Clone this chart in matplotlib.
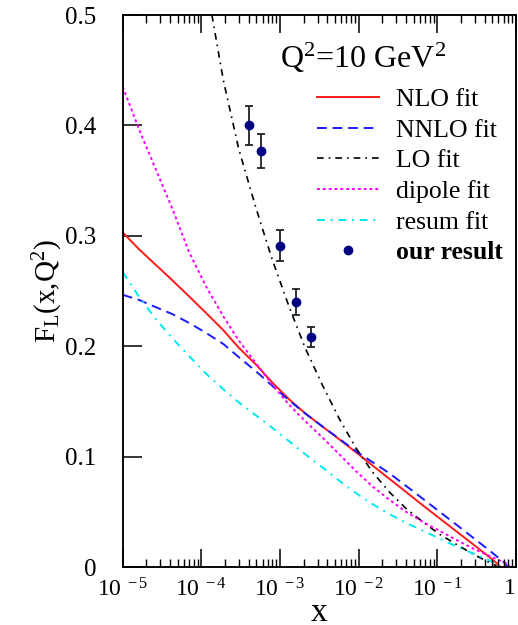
import numpy as np
import matplotlib
matplotlib.use('Agg')
import matplotlib.pyplot as plt
from matplotlib.lines import Line2D
from matplotlib.ticker import LogLocator, NullFormatter

plt.rcParams['font.family'] = ['Liberation Serif', 'DejaVu Serif']
plt.rcParams['mathtext.fontset'] = 'custom'
plt.rcParams['mathtext.rm'] = 'Liberation Serif'
plt.rcParams['mathtext.it'] = 'Liberation Serif:italic'

# ---- curves (x, F_L) ----
x_grid = [1e-5, 1.6e-5, 2.6e-5, 4.3e-5, 7.0e-5, 1.15e-4, 1.9e-4, 3.0e-4, 5.0e-4,
          8.0e-4, 1.3e-3, 2.1e-3, 3.5e-3, 5.7e-3, 9.2e-3, 1.5e-2, 2.45e-2, 4.0e-2,
          6.5e-2, 0.105, 0.17, 0.28, 0.46, 0.74]

nlo_x = x_grid[:23] + [0.6, 0.63]
nlo_y = [0.303, 0.288, 0.274, 0.2595, 0.245, 0.230, 0.2145, 0.1985, 0.183, 0.167,
         0.152, 0.139, 0.127, 0.1155, 0.104, 0.092, 0.080, 0.068, 0.056, 0.0445,
         0.033, 0.021, 0.009, 0.002, 0.0]

nnlo_x = x_grid + [0.78]
nnlo_y = [0.2465, 0.242, 0.2355, 0.229, 0.221, 0.212, 0.202, 0.190, 0.177, 0.164,
          0.151, 0.139, 0.127, 0.116, 0.105, 0.095, 0.085, 0.0735, 0.062, 0.0505,
          0.039, 0.027, 0.015, 0.003, 0.0]

lo_x = [1.36e-4] + x_grid[6:23] + [0.57]
lo_y = [0.5, 0.441, 0.378, 0.324, 0.278, 0.236, 0.198, 0.164, 0.134, 0.108,
        0.086, 0.068, 0.053, 0.041, 0.030, 0.021, 0.012, 0.004, 0.001]

dipole_x = x_grid + [0.85]
dipole_y = [0.435, 0.397, 0.361, 0.324, 0.285, 0.254, 0.227, 0.205, 0.184, 0.165,
            0.147, 0.132, 0.117, 0.102, 0.087, 0.073, 0.061, 0.050, 0.041, 0.033,
            0.025, 0.017, 0.010, 0.0035, 0.0]

resum_x = x_grid[:23] + [0.64]
resum_y = [0.267, 0.245, 0.225, 0.207, 0.191, 0.175, 0.161, 0.149, 0.137, 0.126,
           0.114, 0.102, 0.090, 0.078, 0.067, 0.057, 0.048, 0.040, 0.033, 0.026,
           0.019, 0.0125, 0.006, 0.0]

# our result points
pts_x = [4.0e-4, 5.8e-4, 1.0e-3, 1.6e-3, 2.5e-3]
pts_y = [0.400, 0.377, 0.291, 0.240, 0.208]
pts_err = [0.018, 0.0155, 0.014, 0.012, 0.009]

x_ticks = [1e-5, 1e-4, 1e-3, 1e-2, 1e-1, 1]
x_ticklabels = [r'10$^{\ -5}$', r'10$^{\ -4}$', r'10$^{\ -3}$', r'10$^{\ -2}$',
                r'10$^{\ -1}$', '1']
y_ticks = [0, 0.1, 0.2, 0.3, 0.4, 0.5]
y_ticklabels = ['0', '0.1', '0.2', '0.3', '0.4', '0.5']

rect = [0.237, 0.0928, 0.759, 0.8832]
fig = plt.figure(figsize=(5.18, 6.25), dpi=100)

# main axes: curves, points, y axis, legend
ax = fig.add_axes(rect)
ax.set_xscale('log')
ax.set_xlim(1e-5, 1)
ax.set_ylim(0, 0.5)

ax.plot(nlo_x, nlo_y, color='#ff1a1a', lw=1.4, ls='-', label='NLO fit')
ax.plot(nnlo_x, nnlo_y, color='#1a1aff', lw=1.4, ls=(0, (5, 3)), label='NNLO fit')
ax.plot(lo_x, lo_y, color='black', lw=1.2, ls=(0, (4, 3, 1, 3)), label='LO fit')
ax.plot(dipole_x, dipole_y, color='#ff00ff', lw=1.4, ls=(0, (1.5, 1.5)), label='dipole fit')
ax.plot(resum_x, resum_y, color='#00e8f0', lw=1.4, ls=(0, (4, 3, 1, 3)), label='resum fit')
ax.errorbar(pts_x, pts_y, yerr=pts_err, fmt='o', color='#000080', ms=6,
            ecolor='#222222', elinewidth=1.3, capsize=3, capthick=1.3)

ax.tick_params(axis='x', which='both', bottom=False, top=False, labelbottom=False)
ax.set_yticks(y_ticks)
ax.set_yticklabels(y_ticklabels)
ax.tick_params(axis='y', which='major', direction='in', length=14, width=1.1,
               right=False, labelsize=18, pad=19)
ax.tick_params(axis='y', which='minor', left=False, right=False)
for s in ax.spines.values():
    s.set_linewidth(1.1)
ax.set_ylabel(r'F$_\mathrm{L}$(x,Q$^2$)', fontsize=21, labelpad=0)

ax.text(0.40, 0.904, r'Q$^2$=10 GeV$^2$', transform=ax.transAxes, fontsize=23)

handles, labels = ax.get_legend_handles_labels()
handles = handles[:5] + [Line2D([], [], ls='none', marker='o', color='#000080', ms=6)]
labels = labels[:5] + ['our result']
leg = ax.legend(handles, labels, loc='upper left', bbox_to_anchor=(0.494, 0.868),
                frameon=False, fontsize=18.5, handlelength=2.4, handletextpad=0.68,
                labelspacing=0.3, borderpad=0, borderaxespad=0)
leg.get_texts()[-1].set_fontweight('bold')

# empty overlay axes that only carries the x ticks (bottom and top) and x label
axt = fig.add_axes(rect)
axt.patch.set_visible(False)
axt.set_xscale('log')
axt.set_xlim(1e-5, 1)
axt.set_ylim(0, 0.5)
axt.set_xticks(x_ticks)
axt.set_xticklabels(x_ticklabels)
axt.xaxis.set_minor_locator(LogLocator(base=10, subs=np.arange(2, 10), numticks=100))
axt.xaxis.set_minor_formatter(NullFormatter())
axt.get_xticklabels()[-1].set_horizontalalignment('right')
axt.tick_params(axis='x', which='major', direction='in', length=13, width=1.1,
                top=True, labelsize=17, pad=8)
axt.tick_params(axis='x', which='minor', direction='in', length=6, width=1.0, top=True)
axt.tick_params(axis='y', which='both', left=False, right=False, labelleft=False)
for s in axt.spines.values():
    s.set_linewidth(1.1)
axt.set_xlabel('x', fontsize=24, labelpad=-3)

fig.canvas.draw()
fig.savefig('out.png', dpi=100)
